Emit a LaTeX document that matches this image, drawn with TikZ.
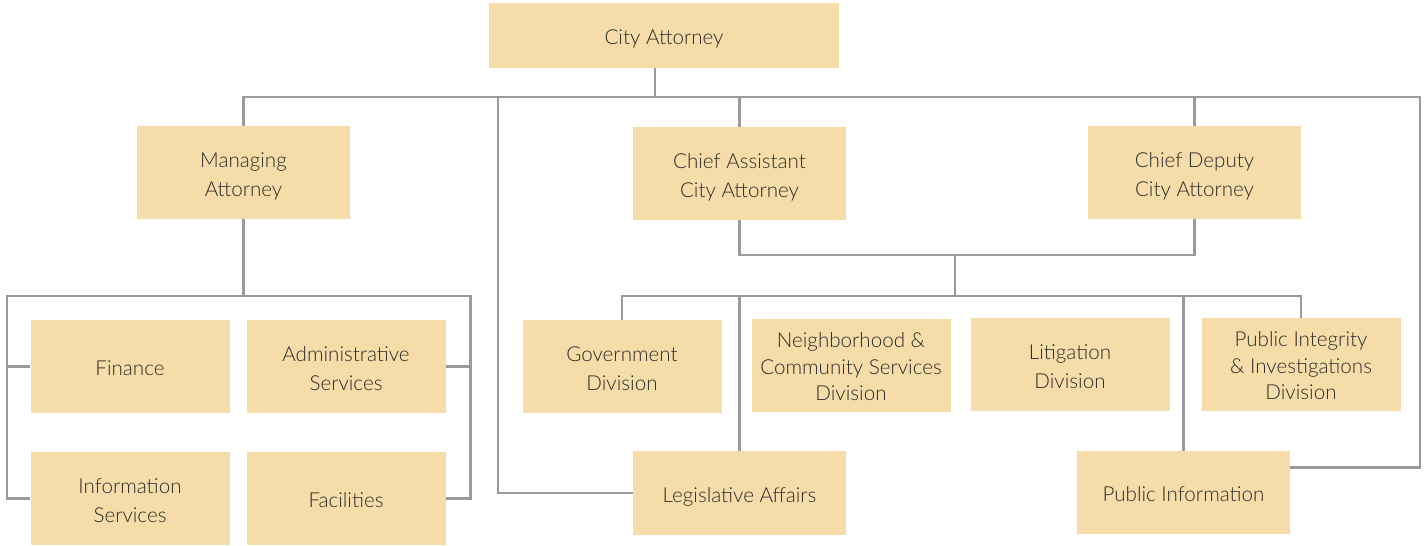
\documentclass[tikz,border=0pt]{standalone}
\usepackage{fontspec}
\setmainfont{Lato}[UprightFont=* Light]
\usepackage{tikz}
\usetikzlibrary{positioning,calc}
\definecolor{boxfill}{HTML}{F6DCA8}
\definecolor{wire}{HTML}{9A9A9E}
\definecolor{ink}{HTML}{2B2B2B}
% label text, set a little low in its box
\newcommand{\unitlabel}[2][1]{\raisebox{-3.5pt}[\height][\depth]{%
  \renewcommand{\arraystretch}{#1}\begin{tabular}{@{}c@{}}#2\end{tabular}}}
\tikzset{
  unit/.style={rectangle,fill=boxfill,text=ink,inner sep=0pt,
    minimum width=199pt,minimum height=93pt,font=\fontsize{20.6}{29}\selectfont},
  head/.style={unit,minimum width=213pt},
  link/.style={draw=wire,line width=2.6pt},
}
\begin{document}
\begin{tikzpicture}[x=1pt,y=-1pt]
  \useasboundingbox (0,0) rectangle (1428,546);

  % top level
  \node[head,minimum width=350pt,minimum height=65pt] (ca) at (664,35.5) {\unitlabel{City Attorney}};
  \node[head] (ma) at (243.5,172.5) {\unitlabel{Managing\\Attorney}};
  \node[head] (caa) at (739.5,173.5) {\unitlabel{Chief Assistant\\City Attorney}};
  \node[head] (cda) at (1194.5,172.5) {\unitlabel{Chief Deputy\\City Attorney}};

  % administration
  \node[unit] (fin) at (130,366.5) {\unitlabel{Finance}};
  \node[unit] (adm) at (346,366.5) {\unitlabel{Administrative\\Services}};
  \node[unit] (info) at (130,498.5) {\unitlabel{Information\\Services}};
  \node[unit] (fac) at (346,498.5) {\unitlabel{Facilities}};

  % divisions
  \node[unit] (gov) at (622,366.5) {\unitlabel{Government\\Division}};
  \node[unit] (nbh) at (851,365.5) {\unitlabel[0.91]{Neighborhood \&\\Community Services\\Division}};
  \node[unit] (lit) at (1070,364.5) {\unitlabel{Litigation\\Division}};
  \node[unit] (pid) at (1301,364.5) {\unitlabel[0.91]{Public Integrity\\\& Investigations\\Division}};
  \node[head,minimum height=84pt] (leg) at (739.5,493) {\unitlabel{Legislative Affairs}};
  \node[head,minimum height=83pt] (pinf) at (1183.5,492.5) {\unitlabel{Public Information}};

  % bus points
  \coordinate (busT) at (655,97);
  \coordinate (busR) at (1420,97);
  \coordinate (busL) at (498,97);
  \coordinate (busA) at (7,296);
  \coordinate (pair) at (955,255);
  \coordinate (busD) at (955,296);

  \draw[link] (ca.south -| busT) -- (busT);
  \draw[link] (ma.north) |- (busR) |- ([yshift=25pt]pinf.east);
  \draw[link] (caa.north) -- (caa.north |- busR);
  \draw[link] (cda.north) -- (cda.north |- busR);
  \draw[link] (leg.west) -| (busL);

  \draw[link] (ma.south) -- (ma.south |- busA);
  \draw[link] (info.west) -| (busA) -| ([xshift=25pt]fac.east) -- (fac.east);
  \draw[link] (fin.west) -- (fin.west -| busA);
  \draw[link] (adm.east) -- ([xshift=25pt]adm.east);

  \draw[link] (caa.south) |- (pair) -| (cda.south);
  \draw[link] (pair) -- (busD);
  \draw[link] (gov.north) |- (busD) -| (pid.north);
  \draw[link] (leg.north) -- (leg.north |- busD);
  \draw[link] (pinf.north) -- (pinf.north |- busD);
\end{tikzpicture}
\end{document}
